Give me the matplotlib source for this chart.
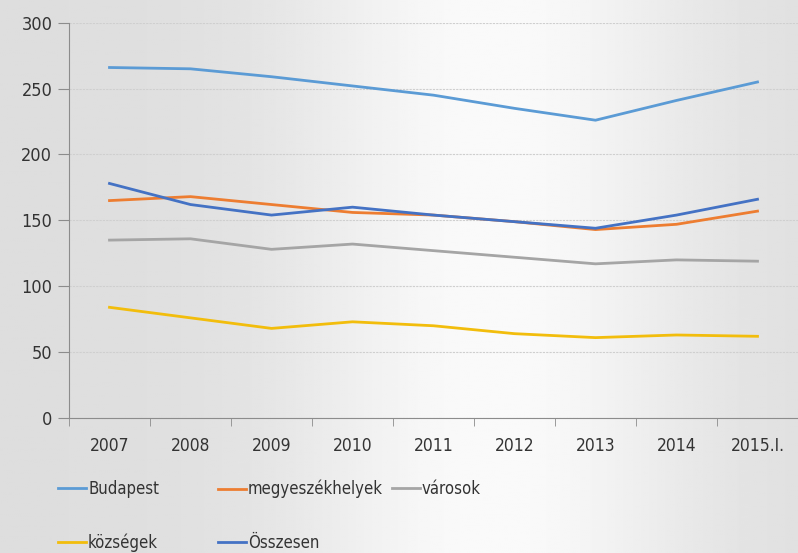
import numpy as np
import matplotlib.pyplot as plt

plt.rcParams['font.family'] = ['DejaVu Sans']
plt.rcParams['font.stretch'] = 'condensed'

years = ['2007', '2008', '2009', '2010', '2011', '2012', '2013', '2014', '2015.I.']
budapest = [266, 265, 259, 252, 245, 235, 226, 241, 255]
megyeszekhelyek = [165, 168, 162, 156, 154, 149, 143, 147, 157]
varosok = [135, 136, 128, 132, 127, 122, 117, 120, 119]
kozsegek = [84, 76, 68, 73, 70, 64, 61, 63, 62]
osszesen = [178, 162, 154, 160, 154, 149, 144, 154, 166]

series = [
    ('Budapest', budapest, '#5b9bd5'),
    ('megyeszékhelyek', megyeszekhelyek, '#ed7d31'),
    ('városok', varosok, '#a5a5a5'),
    ('községek', kozsegek, '#f2bd0c'),
    ('Összesen', osszesen, '#4472c4'),
]

fig = plt.figure(figsize=(7.98, 5.53), dpi=100)

# soft gray background with a lighter band in the middle
bg = fig.add_axes([0, 0, 1, 1], zorder=-10)
gx = np.linspace(0, 1, 400)
shade = 0.87 + 0.11 * np.exp(-((gx - 0.62) / 0.25) ** 2)
bg.imshow(np.tile(shade, (50, 1)), cmap='gray', vmin=0, vmax=1, aspect='auto',
          extent=[0, 1, 0, 1])
bg.axis('off')

ax = fig.add_axes([69 / 798, 135 / 553, 1 - 69 / 798, (418 - 22.7) / 553])
ax.patch.set_alpha(0)

x = np.arange(len(years))
handles = {}
for name, vals, col in series:
    h, = ax.plot(x, vals, color=col, lw=2.0, solid_joinstyle='round')
    handles[name] = h

ax.set_ylim(0, 300)
ax.set_yticks(range(0, 301, 50))
ax.set_xlim(-0.5, 8.41)
ax.set_xticks(x)
ax.set_xticklabels(years)
ax.set_xticks(np.arange(-0.5, 8.6, 1), minor=True)
ax.tick_params(axis='x', which='major', length=0, pad=14, labelsize=12.5, colors='#333333')
ax.tick_params(axis='x', which='minor', length=6, color='#8c8c8c')
ax.tick_params(axis='y', length=8, color='#8c8c8c', labelsize=13, labelcolor='#333333', pad=4)
ax.grid(axis='y', color='#cfcfcf', lw=0.8, ls=(0, (2, 1)))
for s in ['top', 'right']:
    ax.spines[s].set_visible(False)
for s in ['left', 'bottom']:
    ax.spines[s].set_color('#8c8c8c')

cols = [(['Budapest', 'községek'], 58), (['megyeszékhelyek', 'Összesen'], 218), (['városok'], 392)]
for names, px in cols:
    leg = fig.legend([handles[n] for n in names], names, loc='upper left',
                     bbox_to_anchor=(px / 798, 73 / 553), frameon=False, fontsize=12,
                     handlelength=1.7, handletextpad=0.1, labelspacing=2.1,
                     borderaxespad=0, borderpad=0)
    for t in leg.get_texts():
        t.set_color('#333333')

fig.savefig('out.png', dpi=100)
